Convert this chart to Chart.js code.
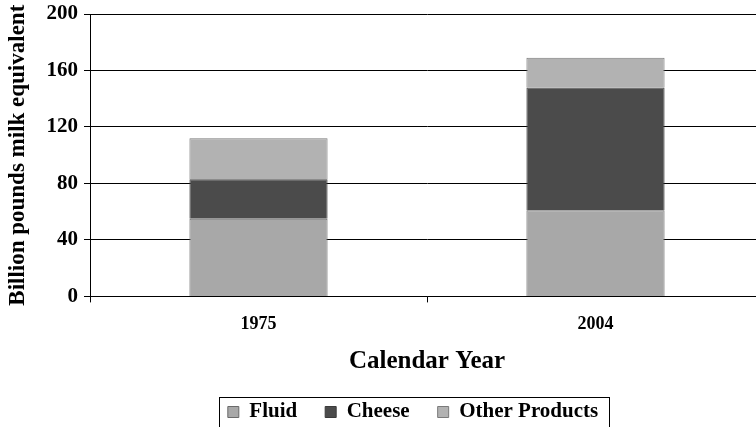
<!DOCTYPE html>
<html><head><meta charset="utf-8">
<script src="https://cdn.jsdelivr.net/npm/chart.js@4"></script>
<style>
html,body{margin:0;padding:0;background:#fff;overflow:hidden;}
#wrap{width:756px;height:427px;overflow:hidden;position:relative;}
#inner{width:766px;height:427px;position:absolute;left:0;top:0;}
</style></head>
<body>
<div id="wrap"><div id="inner"><canvas id="c" width="766" height="427"></canvas></div></div>
<script>
const categories = ['1975', '2004'];
const fluid = [55, 61];
const cheese = [28, 87];
const otherProducts = [29, 21];
const yTicks = [0, 40, 80, 120, 160, 200];

const FONT = "'Liberation Serif', 'Times New Roman', serif";
const LEGEND_CENTER_X = 413;
const LEGEND_CENTER_Y = 412;

const legendPlace = {
  id: 'legendPlace',
  afterLayout(chart) {
    const lg = chart.legend;
    if (!lg) return;
    const pad = lg.options.labels.padding;
    const fs = lg.options.labels.font.size;
    const dx = LEGEND_CENTER_X - (lg.left + lg.right) / 2;
    lg.left += dx; lg.right += dx;
    lg.top = LEGEND_CENTER_Y - pad - fs / 2;
    lg.bottom = lg.top + pad * 2 + fs + 10;
    lg.height = lg.bottom - lg.top;
  },
  afterDraw(chart) {
    const lg = chart.legend;
    if (!lg || !lg.legendHitBoxes || !lg.legendHitBoxes.length) return;
    let l = Infinity, r = -Infinity, t = Infinity, b = -Infinity;
    lg.legendHitBoxes.forEach(hb => { l = Math.min(l, hb.left); r = Math.max(r, hb.left + hb.width); t = Math.min(t, hb.top); b = Math.max(b, hb.top + hb.height); });
    const ctx = chart.ctx;
    ctx.save();
    ctx.strokeStyle = '#000';
    ctx.lineWidth = 1;
    ctx.strokeRect(Math.round(l - 9) + 0.5, Math.round(t - 5) + 0.5, Math.round(r - l + 20), Math.round(b - t + 9));
    ctx.restore();
  }
};

new Chart(document.getElementById('c'), {
  type: 'bar',
  data: {
    labels: categories,
    datasets: [
      { label: 'Fluid', data: fluid, backgroundColor: '#a8a8a8', borderColor: '#6a6a6a', borderWidth: 1 },
      { label: 'Cheese', data: cheese, backgroundColor: '#4b4b4b', borderColor: '#3a3a3a', borderWidth: 1 },
      { label: 'Other Products', data: otherProducts, backgroundColor: '#b2b2b2', borderColor: '#7a7a7a', borderWidth: 1 }
    ]
  },
  options: {
    responsive: false,
    animation: false,
    devicePixelRatio: 1,
    layout: { padding: { top: 14, right: 2, left: 0, bottom: 20 } },
    datasets: { bar: { barPercentage: 0.41, categoryPercentage: 1.0 } },
    plugins: {
      tooltip: { enabled: false },
      legend: {
        position: 'bottom',
        maxHeight: 30,
        labels: {
          color: '#000',
          font: { family: FONT, size: 21, weight: 'bold' },
          boxWidth: 11, boxHeight: 11, padding: 28
        }
      }
    },
    scales: {
      x: {
        stacked: true,
        afterFit(scale) { scale.paddingLeft = 0; scale.paddingRight = 0; },
        grid: { display: true, drawOnChartArea: false, drawTicks: true, tickLength: 6, color: '#000', offset: true },
        border: { display: true, color: '#000', width: 1 },
        ticks: { color: '#000', font: { family: FONT, size: 18, weight: 'bold' }, padding: 11 },
        title: { display: true, text: 'Calendar Year', color: '#000', font: { family: FONT, size: 25, weight: 'bold' }, padding: { top: 1, bottom: 0 } }
      },
      y: {
        stacked: true,
        min: 0, max: 200,
        afterBuildTicks(scale) { scale.ticks = yTicks.map(v => ({ value: v })); },
        afterFit(scale) { scale.width = 90; scale.paddingTop = 0; scale.paddingBottom = 0; },
        grid: { color: '#000', lineWidth: 1, drawTicks: true, tickLength: 6 },
        border: { display: true, color: '#000', width: 1 },
        ticks: { color: '#000', font: { family: FONT, size: 21, weight: 'bold' }, padding: 6 },
        title: { display: true, text: 'Billion pounds milk equivalent', color: '#000', font: { family: FONT, size: 23, weight: 'bold' }, padding: { top: 4, bottom: 0 } }
      }
    }
  },
  plugins: [legendPlace]
});
</script>
</body></html>
